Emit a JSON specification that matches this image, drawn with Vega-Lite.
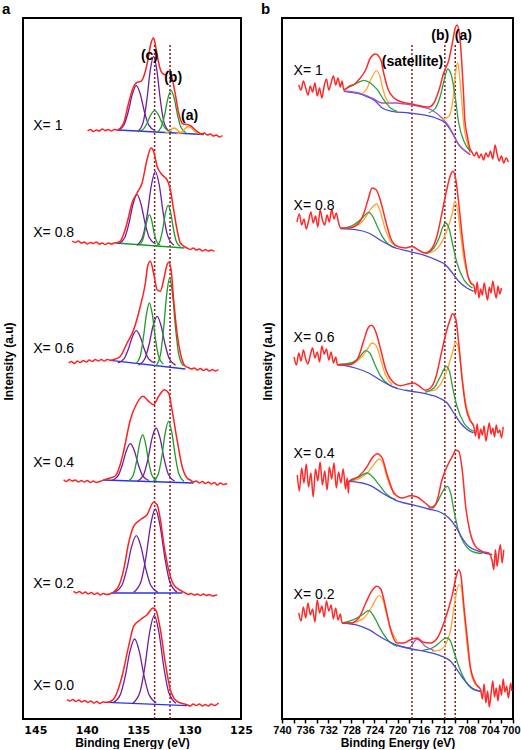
{
"$schema":"https://vega.github.io/schema/vega-lite/v6.json",
"padding":{"left":1,"top":1,"right":0,"bottom":0},
"background":"white",
"config":{"font":"Liberation Sans","view":{"stroke":"black","strokeWidth":2},
"axis":{"grid":false,"domain":false,"labelColor":"black","titleColor":"black"},
"title":{"anchor":"start","frame":"bounds","fontSize":15,"fontWeight":"bold","offset":1,"color":"black"},
"concat":{"spacing":6}},
"resolve":{"scale":{"color":"independent","x":"independent","y":"independent"}},
"datasets":{
"aRules":[{"x":133.4,"y0":0,"y1":676},{"x":131.9,"y0":0,"y1":676}],
"bRules":[{"x":717.5,"y0":0,"y1":676},{"x":711.8,"y0":0,"y1":676},{"x":710.0,"y0":0,"y1":676}],
"aText":[{"x":145.2,"y":593,"t":"X= 1"},{"x":145.2,"y":486,"t":"X= 0.8"},{"x":145.2,"y":370,"t":"X= 0.6"},{"x":145.2,"y":256,"t":"X= 0.4"},{"x":145.2,"y":135,"t":"X= 0.2"},{"x":145.2,"y":33,"t":"X= 0.0"}],
"aAnn":[{"x":133.9,"y":663,"t":"(c)"},{"x":131.6,"y":641,"t":"(b)"},{"x":130.0,"y":603,"t":"(a)"}],
"bText":[{"x":738.0,"y":648,"t":"X= 1"},{"x":738.0,"y":513,"t":"X= 0.8"},{"x":738.0,"y":381,"t":"X= 0.6"},{"x":738.0,"y":265,"t":"X= 0.4"},{"x":738.0,"y":124,"t":"X= 0.2"}],
"bAnn":[{"x":717.4,"y":657,"t":"(satellite)"},{"x":712.6,"y":683,"t":"(b)"},{"x":708.6,"y":683,"t":"(a)"}],
"A":[
{"s":"10r","c":"r","x":139.92,"y":588},{"s":"10r","c":"r","x":139.65,"y":589.5},{"s":"10r","c":"r","x":139.36,"y":587.5},{"s":"10r","c":"r","x":139.07,"y":589},{"s":"10r","c":"r","x":138.78,"y":588},{"s":"10r","c":"r","x":138.49,"y":590},{"s":"10r","c":"r","x":138.2,"y":588.5},{"s":"10r","c":"r","x":137.9,"y":589.5},{"s":"10r","c":"r","x":137.61,"y":588},{"s":"10r","c":"r","x":137.32,"y":589.5},{"s":"10r","c":"r","x":137.03,"y":589},{"s":"10r","c":"r","x":136.73,"y":591},{"s":"10r","c":"r","x":136.41,"y":596},{"s":"10r","c":"r","x":135.93,"y":616},{"s":"10r","c":"r","x":135.5,"y":631},{"s":"10r","c":"r","x":135.11,"y":636.7},{"s":"10r","c":"r","x":134.72,"y":637.7},{"s":"10r","c":"r","x":134.4,"y":644.3},{"s":"10r","c":"r","x":134.08,"y":657.7},{"s":"10r","c":"r","x":133.75,"y":676},{"s":"10r","c":"r","x":133.5,"y":681},{"s":"10r","c":"r","x":133.3,"y":672.7},{"s":"10r","c":"r","x":133.04,"y":657.7},{"s":"10r","c":"r","x":132.68,"y":646},{"s":"10r","c":"r","x":132.36,"y":644.3},{"s":"10r","c":"r","x":132.04,"y":647.7},{"s":"10r","c":"r","x":131.71,"y":641},{"s":"10r","c":"r","x":131.38,"y":624.3},{"s":"10r","c":"r","x":131.06,"y":606},{"s":"10r","c":"r","x":130.64,"y":595},{"s":"10r","c":"r","x":130.25,"y":594.5},{"s":"10r","c":"r","x":129.93,"y":593.5},{"s":"10r","c":"r","x":129.44,"y":589},{"s":"10r","c":"r","x":128.79,"y":585},{"s":"10r","c":"r","x":128.56,"y":586},{"s":"10r","c":"r","x":128.27,"y":584},{"s":"10r","c":"r","x":127.98,"y":585},{"s":"10r","c":"r","x":127.69,"y":583},{"s":"10r","c":"r","x":127.4,"y":584},{"s":"10r","c":"r","x":127.11,"y":582},{"s":"10r","c":"r","x":126.81,"y":583.5},
{"s":"10b","c":"b","x":137.0,"y":589},{"s":"10b","c":"b","x":128.6,"y":584.5},
{"s":"10p1","c":"p","x":133.38,"y":588.5},{"s":"10p1","c":"p","x":133.98,"y":594.1},{"s":"10p1","c":"p","x":134.4,"y":607.5},{"s":"10p1","c":"p","x":134.79,"y":624.7},{"s":"10p1","c":"p","x":135.18,"y":633.3},{"s":"10p1","c":"p","x":135.57,"y":624.7},{"s":"10p1","c":"p","x":135.96,"y":607.5},{"s":"10p1","c":"p","x":136.38,"y":594.1},{"s":"10p1","c":"p","x":136.98,"y":588.5},
{"s":"10p2","c":"p","x":132.0,"y":587.8},{"s":"10p2","c":"p","x":132.5,"y":597.2},{"s":"10p2","c":"p","x":132.85,"y":619.6},{"s":"10p2","c":"p","x":133.18,"y":648.3},{"s":"10p2","c":"p","x":133.5,"y":662.7},{"s":"10p2","c":"p","x":133.83,"y":648.3},{"s":"10p2","c":"p","x":134.15,"y":619.6},{"s":"10p2","c":"p","x":134.5,"y":597.2},{"s":"10p2","c":"p","x":135.0,"y":587.8},
{"s":"10g1","c":"g","x":131.75,"y":587.2},{"s":"10g1","c":"g","x":132.3,"y":589.9},{"s":"10g1","c":"g","x":132.69,"y":596.2},{"s":"10g1","c":"g","x":133.04,"y":604.3},{"s":"10g1","c":"g","x":133.4,"y":608.3},{"s":"10g1","c":"g","x":133.76,"y":604.3},{"s":"10g1","c":"g","x":134.12,"y":596.2},{"s":"10g1","c":"g","x":134.5,"y":589.9},{"s":"10g1","c":"g","x":135.05,"y":587.2},
{"s":"10g2","c":"g","x":130.36,"y":586.5},{"s":"10g2","c":"g","x":130.84,"y":591.8},{"s":"10g2","c":"g","x":131.18,"y":604.4},{"s":"10g2","c":"g","x":131.49,"y":620.6},{"s":"10g2","c":"g","x":131.8,"y":628.7},{"s":"10g2","c":"g","x":132.11,"y":620.6},{"s":"10g2","c":"g","x":132.42,"y":604.4},{"s":"10g2","c":"g","x":132.76,"y":591.8},{"s":"10g2","c":"g","x":133.24,"y":586.5},
{"s":"10o1","c":"o","x":130.6,"y":586.1},{"s":"10o1","c":"o","x":130.9,"y":586.7},{"s":"10o1","c":"o","x":131.11,"y":588.2},{"s":"10o1","c":"o","x":131.31,"y":590.1},{"s":"10o1","c":"o","x":131.5,"y":591},{"s":"10o1","c":"o","x":131.7,"y":590.1},{"s":"10o1","c":"o","x":131.89,"y":588.2},{"s":"10o1","c":"o","x":132.1,"y":586.7},{"s":"10o1","c":"o","x":132.4,"y":586.1},
{"s":"10o2","c":"o","x":128.9,"y":585.1},{"s":"10o2","c":"o","x":129.3,"y":586.1},{"s":"10o2","c":"o","x":129.58,"y":588.4},{"s":"10o2","c":"o","x":129.84,"y":591.1},{"s":"10o2","c":"o","x":130.1,"y":592.5},{"s":"10o2","c":"o","x":130.36,"y":591.1},{"s":"10o2","c":"o","x":130.62,"y":588.4},{"s":"10o2","c":"o","x":130.9,"y":586.1},{"s":"10o2","c":"o","x":131.3,"y":585.1},
{"s":"08r","c":"r","x":141.43,"y":478},{"s":"08r","c":"r","x":141.11,"y":476.5},{"s":"08r","c":"r","x":140.82,"y":478},{"s":"08r","c":"r","x":140.53,"y":476},{"s":"08r","c":"r","x":140.24,"y":477},{"s":"08r","c":"r","x":139.95,"y":475},{"s":"08r","c":"r","x":139.65,"y":476.5},{"s":"08r","c":"r","x":139.36,"y":475.5},{"s":"08r","c":"r","x":139.07,"y":477},{"s":"08r","c":"r","x":138.78,"y":475},{"s":"08r","c":"r","x":138.49,"y":476},{"s":"08r","c":"r","x":138.2,"y":474.5},{"s":"08r","c":"r","x":137.9,"y":476},{"s":"08r","c":"r","x":137.61,"y":475},{"s":"08r","c":"r","x":137.32,"y":476},{"s":"08r","c":"r","x":137.03,"y":476.5},{"s":"08r","c":"r","x":136.73,"y":478},{"s":"08r","c":"r","x":136.44,"y":484},{"s":"08r","c":"r","x":136.08,"y":496},{"s":"08r","c":"r","x":135.6,"y":516},{"s":"08r","c":"r","x":135.11,"y":526},{"s":"08r","c":"r","x":134.62,"y":536},{"s":"08r","c":"r","x":134.14,"y":559.3},{"s":"08r","c":"r","x":133.75,"y":571},{"s":"08r","c":"r","x":133.5,"y":567.7},{"s":"08r","c":"r","x":133.16,"y":552.7},{"s":"08r","c":"r","x":132.68,"y":544.3},{"s":"08r","c":"r","x":132.19,"y":539.3},{"s":"08r","c":"r","x":131.87,"y":529.3},{"s":"08r","c":"r","x":131.55,"y":509.3},{"s":"08r","c":"r","x":131.22,"y":489.3},{"s":"08r","c":"r","x":130.9,"y":476},{"s":"08r","c":"r","x":130.25,"y":471},{"s":"08r","c":"r","x":129.93,"y":469.5},{"s":"08r","c":"r","x":129.64,"y":471},{"s":"08r","c":"r","x":129.35,"y":469},{"s":"08r","c":"r","x":129.05,"y":470},{"s":"08r","c":"r","x":128.76,"y":468},{"s":"08r","c":"r","x":128.47,"y":469.5},{"s":"08r","c":"r","x":128.18,"y":468},{"s":"08r","c":"r","x":127.89,"y":469},{"s":"08r","c":"r","x":127.59,"y":467.5},
{"s":"08b","c":"g","x":137.2,"y":476},{"s":"08b","c":"g","x":130.5,"y":471},
{"s":"08p1","c":"p","x":133.31,"y":475},{"s":"08p1","c":"p","x":133.91,"y":481.2},{"s":"08p1","c":"p","x":134.33,"y":495.9},{"s":"08p1","c":"p","x":134.72,"y":514.8},{"s":"08p1","c":"p","x":135.11,"y":524.3},{"s":"08p1","c":"p","x":135.5,"y":514.8},{"s":"08p1","c":"p","x":135.89,"y":495.9},{"s":"08p1","c":"p","x":136.31,"y":481.2},{"s":"08p1","c":"p","x":136.91,"y":475},
{"s":"08p2","c":"p","x":131.53,"y":473.8},{"s":"08p2","c":"p","x":132.13,"y":483.1},{"s":"08p2","c":"p","x":132.55,"y":505.1},{"s":"08p2","c":"p","x":132.94,"y":533.5},{"s":"08p2","c":"p","x":133.33,"y":547.7},{"s":"08p2","c":"p","x":133.72,"y":533.5},{"s":"08p2","c":"p","x":134.11,"y":505.1},{"s":"08p2","c":"p","x":134.53,"y":483.1},{"s":"08p2","c":"p","x":135.13,"y":473.8},
{"s":"08g1","c":"g","x":132.86,"y":473.8},{"s":"08g1","c":"g","x":133.21,"y":477.7},{"s":"08g1","c":"g","x":133.46,"y":486.7},{"s":"08g1","c":"g","x":133.68,"y":498.4},{"s":"08g1","c":"g","x":133.91,"y":504.3},{"s":"08g1","c":"g","x":134.14,"y":498.4},{"s":"08g1","c":"g","x":134.37,"y":486.7},{"s":"08g1","c":"g","x":134.61,"y":477.7},{"s":"08g1","c":"g","x":134.96,"y":473.8},
{"s":"08g2","c":"g","x":130.89,"y":472.5},{"s":"08g2","c":"g","x":131.29,"y":477.6},{"s":"08g2","c":"g","x":131.57,"y":489.9},{"s":"08g2","c":"g","x":131.83,"y":505.8},{"s":"08g2","c":"g","x":132.09,"y":513.7},{"s":"08g2","c":"g","x":132.35,"y":505.8},{"s":"08g2","c":"g","x":132.61,"y":489.9},{"s":"08g2","c":"g","x":132.89,"y":477.6},{"s":"08g2","c":"g","x":133.29,"y":472.5},
{"s":"06r","c":"r","x":141.76,"y":356},{"s":"06r","c":"r","x":141.5,"y":357.5},{"s":"06r","c":"r","x":141.21,"y":355.5},{"s":"06r","c":"r","x":140.92,"y":358},{"s":"06r","c":"r","x":140.63,"y":356.5},{"s":"06r","c":"r","x":140.33,"y":358.5},{"s":"06r","c":"r","x":140.04,"y":357},{"s":"06r","c":"r","x":139.75,"y":359},{"s":"06r","c":"r","x":139.46,"y":357.5},{"s":"06r","c":"r","x":139.17,"y":359.5},{"s":"06r","c":"r","x":138.88,"y":358},{"s":"06r","c":"r","x":138.58,"y":359.5},{"s":"06r","c":"r","x":138.29,"y":358},{"s":"06r","c":"r","x":138.0,"y":359.5},{"s":"06r","c":"r","x":137.71,"y":358.7},{"s":"06r","c":"r","x":137.22,"y":360},{"s":"06r","c":"r","x":136.73,"y":362.7},{"s":"06r","c":"r","x":136.08,"y":376},{"s":"06r","c":"r","x":135.44,"y":389.3},{"s":"06r","c":"r","x":134.79,"y":412.7},{"s":"06r","c":"r","x":134.3,"y":436},{"s":"06r","c":"r","x":134.08,"y":452.7},{"s":"06r","c":"r","x":133.82,"y":457.7},{"s":"06r","c":"r","x":133.5,"y":446},{"s":"06r","c":"r","x":133.16,"y":429.3},{"s":"06r","c":"r","x":132.84,"y":427.7},{"s":"06r","c":"r","x":132.52,"y":439.3},{"s":"06r","c":"r","x":132.19,"y":454.3},{"s":"06r","c":"r","x":132.04,"y":456.7},{"s":"06r","c":"r","x":131.8,"y":449.3},{"s":"06r","c":"r","x":131.55,"y":419.3},{"s":"06r","c":"r","x":131.22,"y":386},{"s":"06r","c":"r","x":130.9,"y":366},{"s":"06r","c":"r","x":130.41,"y":352.7},{"s":"06r","c":"r","x":130.12,"y":351.5},{"s":"06r","c":"r","x":129.83,"y":350},{"s":"06r","c":"r","x":129.54,"y":351},{"s":"06r","c":"r","x":129.24,"y":349},{"s":"06r","c":"r","x":128.95,"y":350.5},{"s":"06r","c":"r","x":128.66,"y":348.5},{"s":"06r","c":"r","x":128.37,"y":350},{"s":"06r","c":"r","x":128.08,"y":348},{"s":"06r","c":"r","x":127.78,"y":349.5},{"s":"06r","c":"r","x":127.49,"y":348},{"s":"06r","c":"r","x":127.2,"y":349.5},
{"s":"06b","c":"b","x":137.71,"y":358.7},{"s":"06b","c":"b","x":130.41,"y":350},
{"s":"06p1","c":"p","x":133.38,"y":356.1},{"s":"06p1","c":"p","x":133.98,"y":360.1},{"s":"06p1","c":"p","x":134.4,"y":369.7},{"s":"06p1","c":"p","x":134.79,"y":382.1},{"s":"06p1","c":"p","x":135.18,"y":388.3},{"s":"06p1","c":"p","x":135.57,"y":382.1},{"s":"06p1","c":"p","x":135.96,"y":369.7},{"s":"06p1","c":"p","x":136.38,"y":360.1},{"s":"06p1","c":"p","x":136.98,"y":356.1},
{"s":"06p2","c":"p","x":131.36,"y":353.8},{"s":"06p2","c":"p","x":131.96,"y":360},{"s":"06p2","c":"p","x":132.38,"y":374.5},{"s":"06p2","c":"p","x":132.77,"y":393.3},{"s":"06p2","c":"p","x":133.16,"y":402.7},{"s":"06p2","c":"p","x":133.55,"y":393.3},{"s":"06p2","c":"p","x":133.94,"y":374.5},{"s":"06p2","c":"p","x":134.36,"y":360},{"s":"06p2","c":"p","x":134.96,"y":353.8},
{"s":"06g1","c":"g","x":132.56,"y":354.9},{"s":"06g1","c":"g","x":133.01,"y":362.5},{"s":"06g1","c":"g","x":133.33,"y":380.8},{"s":"06g1","c":"g","x":133.62,"y":404.3},{"s":"06g1","c":"g","x":133.91,"y":416},{"s":"06g1","c":"g","x":134.2,"y":404.3},{"s":"06g1","c":"g","x":134.5,"y":380.8},{"s":"06g1","c":"g","x":134.81,"y":362.5},{"s":"06g1","c":"g","x":135.26,"y":354.9},
{"s":"06g2","c":"g","x":130.59,"y":352.8},{"s":"06g2","c":"g","x":131.04,"y":363.8},{"s":"06g2","c":"g","x":131.36,"y":390.2},{"s":"06g2","c":"g","x":131.65,"y":424.1},{"s":"06g2","c":"g","x":131.94,"y":441},{"s":"06g2","c":"g","x":132.23,"y":424.1},{"s":"06g2","c":"g","x":132.53,"y":390.2},{"s":"06g2","c":"g","x":132.84,"y":363.8},{"s":"06g2","c":"g","x":133.29,"y":352.8},
{"s":"04r","c":"r","x":142.25,"y":239.3},{"s":"04r","c":"r","x":141.99,"y":237.5},{"s":"04r","c":"r","x":141.7,"y":239.5},{"s":"04r","c":"r","x":141.4,"y":238},{"s":"04r","c":"r","x":141.11,"y":239},{"s":"04r","c":"r","x":140.82,"y":237},{"s":"04r","c":"r","x":140.53,"y":238.5},{"s":"04r","c":"r","x":140.24,"y":237},{"s":"04r","c":"r","x":139.95,"y":238.5},{"s":"04r","c":"r","x":139.65,"y":236.5},{"s":"04r","c":"r","x":139.36,"y":238},{"s":"04r","c":"r","x":139.07,"y":236.5},{"s":"04r","c":"r","x":138.68,"y":237.7},{"s":"04r","c":"r","x":138.2,"y":239.5},{"s":"04r","c":"r","x":137.71,"y":241},{"s":"04r","c":"r","x":137.22,"y":243},{"s":"04r","c":"r","x":136.73,"y":255},{"s":"04r","c":"r","x":136.41,"y":268},{"s":"04r","c":"r","x":135.76,"y":299.3},{"s":"04r","c":"r","x":135.11,"y":316},{"s":"04r","c":"r","x":134.53,"y":322.7},{"s":"04r","c":"r","x":133.98,"y":317.7},{"s":"04r","c":"r","x":133.5,"y":314.3},{"s":"04r","c":"r","x":133.01,"y":322.7},{"s":"04r","c":"r","x":132.45,"y":329.3},{"s":"04r","c":"r","x":132.04,"y":326},{"s":"04r","c":"r","x":131.71,"y":309.3},{"s":"04r","c":"r","x":131.22,"y":279.3},{"s":"04r","c":"r","x":130.73,"y":252.7},{"s":"04r","c":"r","x":130.25,"y":241},{"s":"04r","c":"r","x":129.93,"y":239},{"s":"04r","c":"r","x":129.64,"y":237},{"s":"04r","c":"r","x":129.35,"y":238},{"s":"04r","c":"r","x":129.05,"y":236},{"s":"04r","c":"r","x":128.76,"y":237.5},{"s":"04r","c":"r","x":128.47,"y":235.5},{"s":"04r","c":"r","x":128.18,"y":237},{"s":"04r","c":"r","x":127.89,"y":235},{"s":"04r","c":"r","x":127.59,"y":236.5},{"s":"04r","c":"r","x":127.3,"y":234},{"s":"04r","c":"r","x":127.01,"y":236},{"s":"04r","c":"r","x":126.71,"y":234.5},{"s":"04r","c":"r","x":126.35,"y":235.5},
{"s":"04b","c":"b","x":138.39,"y":239},{"s":"04b","c":"b","x":129.63,"y":236},
{"s":"04p1","c":"p","x":133.96,"y":238.5},{"s":"04p1","c":"p","x":134.56,"y":243.1},{"s":"04p1","c":"p","x":134.98,"y":254.1},{"s":"04p1","c":"p","x":135.37,"y":268.2},{"s":"04p1","c":"p","x":135.76,"y":275.3},{"s":"04p1","c":"p","x":136.15,"y":268.2},{"s":"04p1","c":"p","x":136.54,"y":254.1},{"s":"04p1","c":"p","x":136.96,"y":243.1},{"s":"04p1","c":"p","x":137.56,"y":238.5},
{"s":"04p2","c":"p","x":131.46,"y":237.8},{"s":"04p2","c":"p","x":132.06,"y":244.5},{"s":"04p2","c":"p","x":132.48,"y":260.3},{"s":"04p2","c":"p","x":132.87,"y":280.8},{"s":"04p2","c":"p","x":133.26,"y":291},{"s":"04p2","c":"p","x":133.65,"y":280.8},{"s":"04p2","c":"p","x":134.04,"y":260.3},{"s":"04p2","c":"p","x":134.46,"y":244.5},{"s":"04p2","c":"p","x":135.06,"y":237.8},
{"s":"04g1","c":"g","x":133.22,"y":238.2},{"s":"04g1","c":"g","x":133.67,"y":244},{"s":"04g1","c":"g","x":133.99,"y":257.7},{"s":"04g1","c":"g","x":134.28,"y":275.4},{"s":"04g1","c":"g","x":134.57,"y":284.3},{"s":"04g1","c":"g","x":134.86,"y":275.4},{"s":"04g1","c":"g","x":135.16,"y":257.7},{"s":"04g1","c":"g","x":135.47,"y":244},{"s":"04g1","c":"g","x":135.92,"y":238.2},
{"s":"04g2","c":"g","x":130.54,"y":237.5},{"s":"04g2","c":"g","x":131.04,"y":245},{"s":"04g2","c":"g","x":131.39,"y":263},{"s":"04g2","c":"g","x":131.72,"y":286.1},{"s":"04g2","c":"g","x":132.04,"y":297.7},{"s":"04g2","c":"g","x":132.37,"y":286.1},{"s":"04g2","c":"g","x":132.69,"y":263},{"s":"04g2","c":"g","x":133.04,"y":245},{"s":"04g2","c":"g","x":133.54,"y":237.5},
{"s":"02r","c":"r","x":141.28,"y":127.7},{"s":"02r","c":"r","x":141.02,"y":126},{"s":"02r","c":"r","x":140.72,"y":127.5},{"s":"02r","c":"r","x":140.43,"y":125.5},{"s":"02r","c":"r","x":140.14,"y":127},{"s":"02r","c":"r","x":139.85,"y":125},{"s":"02r","c":"r","x":139.56,"y":126.5},{"s":"02r","c":"r","x":139.26,"y":124.5},{"s":"02r","c":"r","x":138.97,"y":126},{"s":"02r","c":"r","x":138.68,"y":124},{"s":"02r","c":"r","x":138.39,"y":125.5},{"s":"02r","c":"r","x":138.1,"y":124.5},{"s":"02r","c":"r","x":137.71,"y":125.3},{"s":"02r","c":"r","x":137.32,"y":127.5},{"s":"02r","c":"r","x":136.9,"y":132.7},{"s":"02r","c":"r","x":136.41,"y":149.3},{"s":"02r","c":"r","x":135.93,"y":176},{"s":"02r","c":"r","x":135.44,"y":192.7},{"s":"02r","c":"r","x":134.79,"y":199.3},{"s":"02r","c":"r","x":134.14,"y":204.3},{"s":"02r","c":"r","x":133.5,"y":216.7},{"s":"02r","c":"r","x":133.16,"y":214.3},{"s":"02r","c":"r","x":132.84,"y":199.3},{"s":"02r","c":"r","x":132.52,"y":176},{"s":"02r","c":"r","x":132.04,"y":149.3},{"s":"02r","c":"r","x":131.55,"y":134.3},{"s":"02r","c":"r","x":130.73,"y":127.7},{"s":"02r","c":"r","x":130.41,"y":126},{"s":"02r","c":"r","x":130.12,"y":124.5},{"s":"02r","c":"r","x":129.83,"y":125.5},{"s":"02r","c":"r","x":129.54,"y":124},{"s":"02r","c":"r","x":129.24,"y":125},{"s":"02r","c":"r","x":128.95,"y":123.5},{"s":"02r","c":"r","x":128.66,"y":125},{"s":"02r","c":"r","x":128.37,"y":123.5},{"s":"02r","c":"r","x":128.08,"y":124.5},{"s":"02r","c":"r","x":127.78,"y":123},{"s":"02r","c":"r","x":127.33,"y":124.3},
{"s":"02b","c":"b","x":137.6,"y":126},{"s":"02b","c":"b","x":130.7,"y":126},
{"s":"02p1","c":"p","x":133.08,"y":126.6},{"s":"02p1","c":"p","x":133.78,"y":133.7},{"s":"02p1","c":"p","x":134.27,"y":150.6},{"s":"02p1","c":"p","x":134.73,"y":172.4},{"s":"02p1","c":"p","x":135.18,"y":183.3},{"s":"02p1","c":"p","x":135.64,"y":172.4},{"s":"02p1","c":"p","x":136.09,"y":150.6},{"s":"02p1","c":"p","x":136.58,"y":133.7},{"s":"02p1","c":"p","x":137.28,"y":126.6},
{"s":"02p2","c":"p","x":131.23,"y":126.9},{"s":"02p2","c":"p","x":131.93,"y":137.3},{"s":"02p2","c":"p","x":132.42,"y":162.1},{"s":"02p2","c":"p","x":132.88,"y":194},{"s":"02p2","c":"p","x":133.33,"y":210},{"s":"02p2","c":"p","x":133.79,"y":194},{"s":"02p2","c":"p","x":134.24,"y":162.1},{"s":"02p2","c":"p","x":134.73,"y":137.3},{"s":"02p2","c":"p","x":135.43,"y":126.9},
{"s":"00r","c":"r","x":141.92,"y":19.3},{"s":"00r","c":"r","x":141.65,"y":18},{"s":"00r","c":"r","x":141.36,"y":19.5},{"s":"00r","c":"r","x":141.07,"y":17.5},{"s":"00r","c":"r","x":140.78,"y":19},{"s":"00r","c":"r","x":140.49,"y":17},{"s":"00r","c":"r","x":140.19,"y":18.5},{"s":"00r","c":"r","x":139.9,"y":16.5},{"s":"00r","c":"r","x":139.61,"y":18},{"s":"00r","c":"r","x":139.31,"y":16},{"s":"00r","c":"r","x":139.02,"y":17.5},{"s":"00r","c":"r","x":138.73,"y":15.5},{"s":"00r","c":"r","x":138.44,"y":17},{"s":"00r","c":"r","x":138.03,"y":16.7},{"s":"00r","c":"r","x":137.61,"y":18},{"s":"00r","c":"r","x":137.22,"y":22.7},{"s":"00r","c":"r","x":136.57,"y":42.7},{"s":"00r","c":"r","x":135.93,"y":72.7},{"s":"00r","c":"r","x":135.44,"y":92.7},{"s":"00r","c":"r","x":134.79,"y":99.3},{"s":"00r","c":"r","x":134.14,"y":104.3},{"s":"00r","c":"r","x":133.55,"y":111},{"s":"00r","c":"r","x":133.23,"y":107.7},{"s":"00r","c":"r","x":132.84,"y":89.3},{"s":"00r","c":"r","x":132.36,"y":56},{"s":"00r","c":"r","x":131.87,"y":29.3},{"s":"00r","c":"r","x":131.22,"y":17.7},{"s":"00r","c":"r","x":130.25,"y":14.3},{"s":"00r","c":"r","x":129.93,"y":13},{"s":"00r","c":"r","x":129.64,"y":15},{"s":"00r","c":"r","x":129.35,"y":13.5},{"s":"00r","c":"r","x":129.05,"y":15},{"s":"00r","c":"r","x":128.76,"y":13},{"s":"00r","c":"r","x":128.47,"y":14.5},{"s":"00r","c":"r","x":128.18,"y":13},{"s":"00r","c":"r","x":127.89,"y":15},{"s":"00r","c":"r","x":127.59,"y":13.5},{"s":"00r","c":"r","x":127.17,"y":16},
{"s":"00b","c":"b","x":138.03,"y":16.7},{"s":"00b","c":"b","x":130.25,"y":13.3},
{"s":"00p1","c":"p","x":133.24,"y":16.2},{"s":"00p1","c":"p","x":133.94,"y":24.2},{"s":"00p1","c":"p","x":134.43,"y":43.2},{"s":"00p1","c":"p","x":134.89,"y":67.7},{"s":"00p1","c":"p","x":135.34,"y":80},{"s":"00p1","c":"p","x":135.8,"y":67.7},{"s":"00p1","c":"p","x":136.25,"y":43.2},{"s":"00p1","c":"p","x":136.74,"y":24.2},{"s":"00p1","c":"p","x":137.44,"y":16.2},
{"s":"00p2","c":"p","x":131.33,"y":15.7},{"s":"00p2","c":"p","x":132.03,"y":26.7},{"s":"00p2","c":"p","x":132.52,"y":52.8},{"s":"00p2","c":"p","x":132.98,"y":86.5},{"s":"00p2","c":"p","x":133.43,"y":103.3},{"s":"00p2","c":"p","x":133.89,"y":86.5},{"s":"00p2","c":"p","x":134.34,"y":52.8},{"s":"00p2","c":"p","x":134.83,"y":26.7},{"s":"00p2","c":"p","x":135.53,"y":15.7}
],
"B":[
{"s":"10r","c":"r","x":737.1,"y":634},{"s":"10r","c":"r","x":736.7,"y":629},{"s":"10r","c":"r","x":736.3,"y":638},{"s":"10r","c":"r","x":735.9,"y":631},{"s":"10r","c":"r","x":735.5,"y":624},{"s":"10r","c":"r","x":735.1,"y":633},{"s":"10r","c":"r","x":734.7,"y":627},{"s":"10r","c":"r","x":734.3,"y":636},{"s":"10r","c":"r","x":733.9,"y":623},{"s":"10r","c":"r","x":733.5,"y":631},{"s":"10r","c":"r","x":733.1,"y":621},{"s":"10r","c":"r","x":732.7,"y":633},{"s":"10r","c":"r","x":732.3,"y":640},{"s":"10r","c":"r","x":731.9,"y":629},{"s":"10r","c":"r","x":731.5,"y":636},{"s":"10r","c":"r","x":731.1,"y":643},{"s":"10r","c":"r","x":730.7,"y":634},{"s":"10r","c":"r","x":730.3,"y":641},{"s":"10r","c":"r","x":729.9,"y":632},{"s":"10r","c":"r","x":729.6,"y":638},{"s":"10r","c":"r","x":729.3,"y":629},{"s":"10r","c":"r","x":728.4,"y":632.7},{"s":"10r","c":"r","x":727.3,"y":635.5},{"s":"10r","c":"r","x":726.7,"y":639.3},{"s":"10r","c":"r","x":725.5,"y":649.3},{"s":"10r","c":"r","x":724.7,"y":661},{"s":"10r","c":"r","x":723.8,"y":665},{"s":"10r","c":"r","x":722.9,"y":659.3},{"s":"10r","c":"r","x":722.4,"y":646},{"s":"10r","c":"r","x":721.6,"y":629.3},{"s":"10r","c":"r","x":720.6,"y":621},{"s":"10r","c":"r","x":719.2,"y":617},{"s":"10r","c":"r","x":717.5,"y":615},{"s":"10r","c":"r","x":715.7,"y":612.7},{"s":"10r","c":"r","x":714.6,"y":612},{"s":"10r","c":"r","x":713.7,"y":616},{"s":"10r","c":"r","x":712.8,"y":629.3},{"s":"10r","c":"r","x":712.0,"y":646},{"s":"10r","c":"r","x":711.1,"y":659.3},{"s":"10r","c":"r","x":710.5,"y":676},{"s":"10r","c":"r","x":710.0,"y":691},{"s":"10r","c":"r","x":709.7,"y":694},{"s":"10r","c":"r","x":709.3,"y":686},{"s":"10r","c":"r","x":708.9,"y":659.3},{"s":"10r","c":"r","x":708.6,"y":629.3},{"s":"10r","c":"r","x":708.35,"y":599.3},{"s":"10r","c":"r","x":707.9,"y":582.7},{"s":"10r","c":"r","x":707.5,"y":571},{"s":"10r","c":"r","x":707.1,"y":566.7},{"s":"10r","c":"r","x":706.7,"y":563},{"s":"10r","c":"r","x":706.3,"y":567},{"s":"10r","c":"r","x":705.9,"y":561},{"s":"10r","c":"r","x":705.5,"y":565},{"s":"10r","c":"r","x":705.1,"y":559},{"s":"10r","c":"r","x":704.7,"y":566},{"s":"10r","c":"r","x":704.3,"y":562},{"s":"10r","c":"r","x":703.9,"y":568},{"s":"10r","c":"r","x":703.5,"y":560},{"s":"10r","c":"r","x":703.1,"y":574},{"s":"10r","c":"r","x":702.8,"y":566},{"s":"10r","c":"r","x":702.4,"y":558},{"s":"10r","c":"r","x":702.0,"y":563},{"s":"10r","c":"r","x":701.6,"y":556},{"s":"10r","c":"r","x":701.2,"y":561},{"s":"10r","c":"r","x":700.8,"y":557},
{"s":"10b","c":"b","x":729.3,"y":627.7},{"s":"10b","c":"b","x":726.1,"y":624.3},{"s":"10b","c":"b","x":723.8,"y":617.7},{"s":"10b","c":"b","x":722.65,"y":611},{"s":"10b","c":"b","x":720.9,"y":607.7},{"s":"10b","c":"b","x":718.0,"y":606},{"s":"10b","c":"b","x":715.7,"y":604.3},{"s":"10b","c":"b","x":713.4,"y":601},{"s":"10b","c":"b","x":711.7,"y":596},{"s":"10b","c":"b","x":710.5,"y":586},{"s":"10b","c":"b","x":709.4,"y":574.3},{"s":"10b","c":"b","x":708.2,"y":567.7},{"s":"10b","c":"b","x":707.4,"y":564.3},
{"s":"10p","c":"p","x":729.3,"y":628},{"s":"10p","c":"p","x":726.1,"y":625},{"s":"10p","c":"p","x":724.4,"y":621},{"s":"10p","c":"p","x":722.65,"y":616},{"s":"10p","c":"p","x":720.3,"y":616},{"s":"10p","c":"p","x":718.0,"y":614.3},{"s":"10p","c":"p","x":715.7,"y":612},{"s":"10p","c":"p","x":714.0,"y":608.7},{"s":"10p","c":"p","x":712.3,"y":601},{"s":"10p","c":"p","x":711.1,"y":592.7},{"s":"10p","c":"p","x":710.2,"y":582.7},{"s":"10p","c":"p","x":709.4,"y":574.3},{"s":"10p","c":"p","x":708.2,"y":567.7},{"s":"10p","c":"p","x":707.4,"y":564.3},
{"s":"10o1","c":"o","x":726.1,"y":625.3},{"s":"10o1","c":"o","x":725.25,"y":631},{"s":"10o1","c":"o","x":724.5,"y":641},{"s":"10o1","c":"o","x":723.6,"y":648.3},{"s":"10o1","c":"o","x":723.05,"y":642.7},{"s":"10o1","c":"o","x":722.5,"y":629.3},{"s":"10o1","c":"o","x":721.95,"y":620},{"s":"10o1","c":"o","x":721.2,"y":616},
{"s":"10o2","c":"o","x":712.3,"y":599.3},{"s":"10o2","c":"o","x":711.1,"y":602.7},{"s":"10o2","c":"o","x":710.4,"y":619.3},{"s":"10o2","c":"o","x":710.0,"y":642.7},{"s":"10o2","c":"o","x":709.6,"y":656.7},{"s":"10o2","c":"o","x":709.3,"y":646},{"s":"10o2","c":"o","x":708.9,"y":619.3},{"s":"10o2","c":"o","x":708.5,"y":592.7},{"s":"10o2","c":"o","x":707.9,"y":576},{"s":"10o2","c":"o","x":707.4,"y":566},
{"s":"10g1","c":"g","x":729.3,"y":629.3},{"s":"10g1","c":"g","x":727.5,"y":634.3},{"s":"10g1","c":"g","x":725.8,"y":638.7},{"s":"10g1","c":"g","x":724.7,"y":636},{"s":"10g1","c":"g","x":723.5,"y":629.3},{"s":"10g1","c":"g","x":722.4,"y":619.3},{"s":"10g1","c":"g","x":721.2,"y":611},{"s":"10g1","c":"g","x":720.05,"y":607.7},
{"s":"10g2","c":"g","x":714.6,"y":606},{"s":"10g2","c":"g","x":713.4,"y":611},{"s":"10g2","c":"g","x":712.6,"y":622.7},{"s":"10g2","c":"g","x":711.9,"y":639.3},{"s":"10g2","c":"g","x":711.3,"y":650},{"s":"10g2","c":"g","x":710.7,"y":644.3},{"s":"10g2","c":"g","x":710.1,"y":626},{"s":"10g2","c":"g","x":709.4,"y":596},{"s":"10g2","c":"g","x":708.5,"y":577.7},{"s":"10g2","c":"g","x":707.4,"y":567.7},
{"s":"08r","c":"r","x":737.4,"y":497},{"s":"08r","c":"r","x":737.0,"y":505},{"s":"08r","c":"r","x":736.6,"y":494},{"s":"08r","c":"r","x":736.2,"y":500},{"s":"08r","c":"r","x":735.8,"y":490},{"s":"08r","c":"r","x":735.4,"y":498},{"s":"08r","c":"r","x":735.0,"y":507},{"s":"08r","c":"r","x":734.6,"y":496},{"s":"08r","c":"r","x":734.2,"y":503},{"s":"08r","c":"r","x":733.8,"y":492},{"s":"08r","c":"r","x":733.4,"y":509},{"s":"08r","c":"r","x":733.0,"y":499},{"s":"08r","c":"r","x":732.6,"y":494},{"s":"08r","c":"r","x":732.2,"y":504},{"s":"08r","c":"r","x":731.8,"y":497},{"s":"08r","c":"r","x":731.4,"y":510},{"s":"08r","c":"r","x":731.0,"y":500},{"s":"08r","c":"r","x":730.6,"y":506},{"s":"08r","c":"r","x":730.2,"y":496},{"s":"08r","c":"r","x":729.85,"y":491},{"s":"08r","c":"r","x":728.4,"y":491},{"s":"08r","c":"r","x":727.0,"y":494.3},{"s":"08r","c":"r","x":725.8,"y":506},{"s":"08r","c":"r","x":725.1,"y":519.3},{"s":"08r","c":"r","x":724.4,"y":531},{"s":"08r","c":"r","x":723.7,"y":529.3},{"s":"08r","c":"r","x":723.0,"y":519.3},{"s":"08r","c":"r","x":722.1,"y":499.3},{"s":"08r","c":"r","x":721.2,"y":481},{"s":"08r","c":"r","x":720.05,"y":472.7},{"s":"08r","c":"r","x":718.6,"y":471},{"s":"08r","c":"r","x":717.5,"y":472.5},{"s":"08r","c":"r","x":716.3,"y":468.7},{"s":"08r","c":"r","x":715.2,"y":466},{"s":"08r","c":"r","x":714.0,"y":471},{"s":"08r","c":"r","x":713.1,"y":484.3},{"s":"08r","c":"r","x":712.3,"y":506},{"s":"08r","c":"r","x":711.6,"y":526},{"s":"08r","c":"r","x":710.8,"y":544.3},{"s":"08r","c":"r","x":710.4,"y":547.7},{"s":"08r","c":"r","x":709.9,"y":539.3},{"s":"08r","c":"r","x":709.4,"y":516},{"s":"08r","c":"r","x":708.8,"y":482.7},{"s":"08r","c":"r","x":708.2,"y":456},{"s":"08r","c":"r","x":707.7,"y":441},{"s":"08r","c":"r","x":707.0,"y":434.3},{"s":"08r","c":"r","x":706.8,"y":434},{"s":"08r","c":"r","x":706.5,"y":425},{"s":"08r","c":"r","x":706.2,"y":437},{"s":"08r","c":"r","x":705.9,"y":421},{"s":"08r","c":"r","x":705.6,"y":430},{"s":"08r","c":"r","x":705.3,"y":424},{"s":"08r","c":"r","x":705.0,"y":436},{"s":"08r","c":"r","x":704.7,"y":427},{"s":"08r","c":"r","x":704.4,"y":419},{"s":"08r","c":"r","x":704.1,"y":432},{"s":"08r","c":"r","x":703.8,"y":426},{"s":"08r","c":"r","x":703.5,"y":438},{"s":"08r","c":"r","x":703.2,"y":428},{"s":"08r","c":"r","x":702.9,"y":421},{"s":"08r","c":"r","x":702.6,"y":433},{"s":"08r","c":"r","x":702.3,"y":425},{"s":"08r","c":"r","x":702.0,"y":431},
{"s":"08o1","c":"o","x":729.85,"y":490.3},{"s":"08o1","c":"o","x":727.3,"y":492.7},{"s":"08o1","c":"o","x":725.8,"y":499.3},{"s":"08o1","c":"o","x":724.7,"y":509.3},{"s":"08o1","c":"o","x":723.6,"y":515},{"s":"08o1","c":"o","x":723.0,"y":507.7},{"s":"08o1","c":"o","x":722.1,"y":489.3},{"s":"08o1","c":"o","x":721.2,"y":477.7},{"s":"08o1","c":"o","x":720.3,"y":472.7},
{"s":"08o2","c":"o","x":715.2,"y":465.3},{"s":"08o2","c":"o","x":713.7,"y":467.7},{"s":"08o2","c":"o","x":712.6,"y":474.3},{"s":"08o2","c":"o","x":711.4,"y":489.3},{"s":"08o2","c":"o","x":710.5,"y":506},{"s":"08o2","c":"o","x":710.1,"y":517.7},{"s":"08o2","c":"o","x":709.7,"y":512.7},{"s":"08o2","c":"o","x":709.1,"y":486},{"s":"08o2","c":"o","x":708.5,"y":459.3},{"s":"08o2","c":"o","x":707.7,"y":441},{"s":"08o2","c":"o","x":707.0,"y":434.3},
{"s":"08g1","c":"g","x":729.85,"y":490.3},{"s":"08g1","c":"g","x":727.6,"y":494.3},{"s":"08g1","c":"g","x":726.1,"y":501},{"s":"08g1","c":"g","x":725.0,"y":506.7},{"s":"08g1","c":"g","x":724.3,"y":502.7},{"s":"08g1","c":"g","x":723.5,"y":492.7},{"s":"08g1","c":"g","x":722.65,"y":482.7},{"s":"08g1","c":"g","x":721.5,"y":474.3},{"s":"08g1","c":"g","x":720.3,"y":471},
{"s":"08g2","c":"g","x":715.2,"y":465.3},{"s":"08g2","c":"g","x":713.7,"y":471},{"s":"08g2","c":"g","x":712.8,"y":481},{"s":"08g2","c":"g","x":712.1,"y":492.7},{"s":"08g2","c":"g","x":711.7,"y":496},{"s":"08g2","c":"g","x":711.1,"y":491},{"s":"08g2","c":"g","x":710.5,"y":476},{"s":"08g2","c":"g","x":709.7,"y":456},{"s":"08g2","c":"g","x":708.5,"y":439.3},{"s":"08g2","c":"g","x":707.0,"y":431},
{"s":"08b","c":"b","x":729.85,"y":490.3},{"s":"08b","c":"b","x":727.3,"y":489.3},{"s":"08b","c":"b","x":725.0,"y":486},{"s":"08b","c":"b","x":722.65,"y":477.7},{"s":"08b","c":"b","x":720.3,"y":471},{"s":"08b","c":"b","x":718.0,"y":467.7},{"s":"08b","c":"b","x":715.7,"y":464.3},{"s":"08b","c":"b","x":713.4,"y":459.3},{"s":"08b","c":"b","x":711.7,"y":454.3},{"s":"08b","c":"b","x":710.5,"y":446},{"s":"08b","c":"b","x":709.4,"y":437.7},{"s":"08b","c":"b","x":708.0,"y":431},{"s":"08b","c":"b","x":706.8,"y":427.7},
{"s":"06r","c":"r","x":737.9,"y":362},{"s":"06r","c":"r","x":737.5,"y":354},{"s":"06r","c":"r","x":737.1,"y":366},{"s":"06r","c":"r","x":736.7,"y":358},{"s":"06r","c":"r","x":736.3,"y":369},{"s":"06r","c":"r","x":735.9,"y":360},{"s":"06r","c":"r","x":735.5,"y":355},{"s":"06r","c":"r","x":735.1,"y":364},{"s":"06r","c":"r","x":734.7,"y":371},{"s":"06r","c":"r","x":734.3,"y":361},{"s":"06r","c":"r","x":733.9,"y":367},{"s":"06r","c":"r","x":733.5,"y":357},{"s":"06r","c":"r","x":733.1,"y":373},{"s":"06r","c":"r","x":732.7,"y":365},{"s":"06r","c":"r","x":732.3,"y":370},{"s":"06r","c":"r","x":731.9,"y":359},{"s":"06r","c":"r","x":731.5,"y":367},{"s":"06r","c":"r","x":731.1,"y":356},{"s":"06r","c":"r","x":730.7,"y":362},{"s":"06r","c":"r","x":730.4,"y":354.3},{"s":"06r","c":"r","x":728.4,"y":354.3},{"s":"06r","c":"r","x":727.0,"y":359.3},{"s":"06r","c":"r","x":725.8,"y":379.3},{"s":"06r","c":"r","x":725.1,"y":391},{"s":"06r","c":"r","x":724.5,"y":393.7},{"s":"06r","c":"r","x":723.8,"y":387.7},{"s":"06r","c":"r","x":722.9,"y":369.3},{"s":"06r","c":"r","x":722.1,"y":351},{"s":"06r","c":"r","x":720.9,"y":337.7},{"s":"06r","c":"r","x":719.5,"y":333.3},{"s":"06r","c":"r","x":718.0,"y":335.3},{"s":"06r","c":"r","x":717.2,"y":336},{"s":"06r","c":"r","x":716.3,"y":333.3},{"s":"06r","c":"r","x":715.2,"y":328.7},{"s":"06r","c":"r","x":714.3,"y":331},{"s":"06r","c":"r","x":713.4,"y":341},{"s":"06r","c":"r","x":712.4,"y":366},{"s":"06r","c":"r","x":711.6,"y":386},{"s":"06r","c":"r","x":710.8,"y":401},{"s":"06r","c":"r","x":710.5,"y":405.3},{"s":"06r","c":"r","x":709.95,"y":401},{"s":"06r","c":"r","x":709.4,"y":376},{"s":"06r","c":"r","x":708.8,"y":339.3},{"s":"06r","c":"r","x":708.2,"y":312.7},{"s":"06r","c":"r","x":707.5,"y":299.3},{"s":"06r","c":"r","x":706.8,"y":292.7},{"s":"06r","c":"r","x":706.5,"y":283},{"s":"06r","c":"r","x":706.2,"y":295},{"s":"06r","c":"r","x":705.9,"y":280},{"s":"06r","c":"r","x":705.6,"y":290},{"s":"06r","c":"r","x":705.3,"y":284},{"s":"06r","c":"r","x":705.0,"y":293},{"s":"06r","c":"r","x":704.7,"y":278},{"s":"06r","c":"r","x":704.4,"y":287},{"s":"06r","c":"r","x":704.1,"y":296},{"s":"06r","c":"r","x":703.8,"y":285},{"s":"06r","c":"r","x":703.5,"y":291},{"s":"06r","c":"r","x":703.2,"y":282},{"s":"06r","c":"r","x":702.9,"y":294},{"s":"06r","c":"r","x":702.6,"y":286},{"s":"06r","c":"r","x":702.3,"y":289},{"s":"06r","c":"r","x":702.0,"y":281},{"s":"06r","c":"r","x":701.7,"y":292},
{"s":"06o1","c":"o","x":730.4,"y":354.3},{"s":"06o1","c":"o","x":727.8,"y":356},{"s":"06o1","c":"o","x":726.1,"y":362.7},{"s":"06o1","c":"o","x":725.1,"y":371},{"s":"06o1","c":"o","x":724.4,"y":376},{"s":"06o1","c":"o","x":723.7,"y":373.3},{"s":"06o1","c":"o","x":722.9,"y":359.3},{"s":"06o1","c":"o","x":722.1,"y":344.3},{"s":"06o1","c":"o","x":720.9,"y":334.3},
{"s":"06o2","c":"o","x":715.2,"y":327.7},{"s":"06o2","c":"o","x":713.7,"y":328.7},{"s":"06o2","c":"o","x":712.6,"y":334.3},{"s":"06o2","c":"o","x":711.4,"y":349.3},{"s":"06o2","c":"o","x":710.5,"y":366},{"s":"06o2","c":"o","x":709.95,"y":376.7},{"s":"06o2","c":"o","x":709.5,"y":372.7},{"s":"06o2","c":"o","x":708.9,"y":346},{"s":"06o2","c":"o","x":708.3,"y":319.3},{"s":"06o2","c":"o","x":707.5,"y":301},{"s":"06o2","c":"o","x":706.8,"y":292.7},
{"s":"06g1","c":"g","x":730.4,"y":354.3},{"s":"06g1","c":"g","x":728.1,"y":356},{"s":"06g1","c":"g","x":726.7,"y":361},{"s":"06g1","c":"g","x":725.5,"y":368.3},{"s":"06g1","c":"g","x":724.8,"y":366},{"s":"06g1","c":"g","x":723.9,"y":354.3},{"s":"06g1","c":"g","x":722.9,"y":342.7},{"s":"06g1","c":"g","x":721.5,"y":334.3},{"s":"06g1","c":"g","x":720.05,"y":331},
{"s":"06g2","c":"g","x":715.2,"y":326.7},{"s":"06g2","c":"g","x":713.7,"y":331},{"s":"06g2","c":"g","x":712.7,"y":341},{"s":"06g2","c":"g","x":712.0,"y":349.3},{"s":"06g2","c":"g","x":711.6,"y":352.7},{"s":"06g2","c":"g","x":711.0,"y":347.7},{"s":"06g2","c":"g","x":710.5,"y":332.7},{"s":"06g2","c":"g","x":709.7,"y":312.7},{"s":"06g2","c":"g","x":708.5,"y":296},{"s":"06g2","c":"g","x":706.8,"y":287.7},
{"s":"06b","c":"b","x":730.4,"y":354.3},{"s":"06b","c":"b","x":727.3,"y":351},{"s":"06b","c":"b","x":725.0,"y":346},{"s":"06b","c":"b","x":722.65,"y":337.7},{"s":"06b","c":"b","x":720.3,"y":331},{"s":"06b","c":"b","x":717.5,"y":327.7},{"s":"06b","c":"b","x":715.2,"y":325.3},{"s":"06b","c":"b","x":712.8,"y":321},{"s":"06b","c":"b","x":711.4,"y":316},{"s":"06b","c":"b","x":710.25,"y":306},{"s":"06b","c":"b","x":709.1,"y":296},{"s":"06b","c":"b","x":707.9,"y":289.3},{"s":"06b","c":"b","x":706.8,"y":286},
{"s":"04r","c":"r","x":737.35,"y":244},{"s":"04r","c":"r","x":737.0,"y":228},{"s":"04r","c":"r","x":736.6,"y":251},{"s":"04r","c":"r","x":736.2,"y":236},{"s":"04r","c":"r","x":735.8,"y":255},{"s":"04r","c":"r","x":735.4,"y":232},{"s":"04r","c":"r","x":735.0,"y":246},{"s":"04r","c":"r","x":734.6,"y":222},{"s":"04r","c":"r","x":734.2,"y":250},{"s":"04r","c":"r","x":733.8,"y":238},{"s":"04r","c":"r","x":733.4,"y":257},{"s":"04r","c":"r","x":733.0,"y":234},{"s":"04r","c":"r","x":732.6,"y":248},{"s":"04r","c":"r","x":732.2,"y":229},{"s":"04r","c":"r","x":731.8,"y":252},{"s":"04r","c":"r","x":731.4,"y":240},{"s":"04r","c":"r","x":731.0,"y":256},{"s":"04r","c":"r","x":730.6,"y":231},{"s":"04r","c":"r","x":730.2,"y":247},{"s":"04r","c":"r","x":729.8,"y":236},{"s":"04r","c":"r","x":729.4,"y":250},{"s":"04r","c":"r","x":729.0,"y":230},{"s":"04r","c":"r","x":728.7,"y":241},{"s":"04r","c":"r","x":728.5,"y":226},{"s":"04r","c":"r","x":728.4,"y":237.7},{"s":"04r","c":"r","x":726.7,"y":242.7},{"s":"04r","c":"r","x":725.25,"y":252.7},{"s":"04r","c":"r","x":724.4,"y":261},{"s":"04r","c":"r","x":723.5,"y":265.3},{"s":"04r","c":"r","x":722.65,"y":261},{"s":"04r","c":"r","x":721.8,"y":244.3},{"s":"04r","c":"r","x":720.6,"y":226},{"s":"04r","c":"r","x":719.2,"y":221},{"s":"04r","c":"r","x":717.75,"y":223.3},{"s":"04r","c":"r","x":716.6,"y":222},{"s":"04r","c":"r","x":715.2,"y":216},{"s":"04r","c":"r","x":714.0,"y":211},{"s":"04r","c":"r","x":713.1,"y":219.3},{"s":"04r","c":"r","x":712.3,"y":239.3},{"s":"04r","c":"r","x":711.4,"y":252.7},{"s":"04r","c":"r","x":710.5,"y":262.7},{"s":"04r","c":"r","x":709.9,"y":268.7},{"s":"04r","c":"r","x":709.4,"y":267.7},{"s":"04r","c":"r","x":708.8,"y":249.3},{"s":"04r","c":"r","x":708.2,"y":212.7},{"s":"04r","c":"r","x":707.4,"y":186},{"s":"04r","c":"r","x":706.5,"y":172.7},{"s":"04r","c":"r","x":705.35,"y":167.7},{"s":"04r","c":"r","x":704.2,"y":166},{"s":"04r","c":"r","x":703.6,"y":158},{"s":"04r","c":"r","x":703.33,"y":149.3},{"s":"04r","c":"r","x":703.04,"y":169.3},{"s":"04r","c":"r","x":702.75,"y":152.7},{"s":"04r","c":"r","x":702.46,"y":166},{"s":"04r","c":"r","x":702.17,"y":174.3},{"s":"04r","c":"r","x":701.89,"y":156},{"s":"04r","c":"r","x":701.6,"y":169.3},
{"s":"04o1","c":"o","x":728.4,"y":237.7},{"s":"04o1","c":"o","x":726.7,"y":240},{"s":"04o1","c":"o","x":725.25,"y":246},{"s":"04o1","c":"o","x":724.1,"y":254.3},{"s":"04o1","c":"o","x":723.2,"y":260},{"s":"04o1","c":"o","x":722.65,"y":257.7},{"s":"04o1","c":"o","x":721.8,"y":241},{"s":"04o1","c":"o","x":720.6,"y":224.3},
{"s":"04g1","c":"g","x":728.4,"y":237.7},{"s":"04g1","c":"g","x":727.0,"y":241},{"s":"04g1","c":"g","x":725.25,"y":246},{"s":"04g1","c":"g","x":724.4,"y":242.7},{"s":"04g1","c":"g","x":723.2,"y":234.3},{"s":"04g1","c":"g","x":721.8,"y":224.3},{"s":"04g1","c":"g","x":720.3,"y":219.3},
{"s":"04g2","c":"g","x":714.6,"y":211},{"s":"04g2","c":"g","x":713.4,"y":214.3},{"s":"04g2","c":"g","x":712.6,"y":222.7},{"s":"04g2","c":"g","x":711.8,"y":231},{"s":"04g2","c":"g","x":711.4,"y":232.7},{"s":"04g2","c":"g","x":710.8,"y":226},{"s":"04g2","c":"g","x":710.25,"y":209.3},{"s":"04g2","c":"g","x":709.5,"y":189.3},{"s":"04g2","c":"g","x":708.5,"y":176},{"s":"04g2","c":"g","x":707.1,"y":167.7},{"s":"04g2","c":"g","x":705.35,"y":165.3},
{"s":"04b","c":"b","x":728.4,"y":237.7},{"s":"04b","c":"b","x":726.1,"y":236},{"s":"04b","c":"b","x":724.4,"y":232.7},{"s":"04b","c":"b","x":722.65,"y":226},{"s":"04b","c":"b","x":720.3,"y":218.7},{"s":"04b","c":"b","x":717.5,"y":214.3},{"s":"04b","c":"b","x":714.6,"y":210},{"s":"04b","c":"b","x":712.3,"y":206},{"s":"04b","c":"b","x":711.1,"y":201},{"s":"04b","c":"b","x":709.95,"y":192.7},{"s":"04b","c":"b","x":708.8,"y":181},{"s":"04b","c":"b","x":707.7,"y":172.7},{"s":"04b","c":"b","x":705.9,"y":167.7},{"s":"04b","c":"b","x":703.6,"y":164.3},
{"s":"02r","c":"r","x":737.1,"y":106},{"s":"02r","c":"r","x":736.7,"y":98},{"s":"02r","c":"r","x":736.3,"y":112},{"s":"02r","c":"r","x":735.9,"y":101},{"s":"02r","c":"r","x":735.5,"y":116},{"s":"02r","c":"r","x":735.1,"y":104},{"s":"02r","c":"r","x":734.7,"y":110},{"s":"02r","c":"r","x":734.3,"y":97},{"s":"02r","c":"r","x":733.9,"y":119},{"s":"02r","c":"r","x":733.5,"y":106},{"s":"02r","c":"r","x":733.1,"y":113},{"s":"02r","c":"r","x":732.7,"y":102},{"s":"02r","c":"r","x":732.3,"y":118},{"s":"02r","c":"r","x":731.9,"y":108},{"s":"02r","c":"r","x":731.5,"y":114},{"s":"02r","c":"r","x":731.1,"y":100},{"s":"02r","c":"r","x":730.7,"y":111},{"s":"02r","c":"r","x":730.3,"y":99},{"s":"02r","c":"r","x":729.9,"y":105},{"s":"02r","c":"r","x":729.6,"y":96},{"s":"02r","c":"r","x":728.1,"y":96},{"s":"02r","c":"r","x":726.7,"y":101},{"s":"02r","c":"r","x":725.5,"y":116},{"s":"02r","c":"r","x":724.5,"y":127.7},{"s":"02r","c":"r","x":723.6,"y":132.7},{"s":"02r","c":"r","x":722.9,"y":130},{"s":"02r","c":"r","x":722.1,"y":112.7},{"s":"02r","c":"r","x":721.2,"y":89.3},{"s":"02r","c":"r","x":720.05,"y":76},{"s":"02r","c":"r","x":718.9,"y":76},{"s":"02r","c":"r","x":717.75,"y":79.3},{"s":"02r","c":"r","x":716.6,"y":81},{"s":"02r","c":"r","x":715.5,"y":76.7},{"s":"02r","c":"r","x":714.3,"y":76},{"s":"02r","c":"r","x":713.1,"y":81},{"s":"02r","c":"r","x":712.3,"y":91},{"s":"02r","c":"r","x":711.4,"y":106},{"s":"02r","c":"r","x":710.5,"y":124.3},{"s":"02r","c":"r","x":709.9,"y":141},{"s":"02r","c":"r","x":709.4,"y":149.3},{"s":"02r","c":"r","x":709.0,"y":142.7},{"s":"02r","c":"r","x":708.5,"y":112.7},{"s":"02r","c":"r","x":707.9,"y":79.3},{"s":"02r","c":"r","x":707.4,"y":52.7},{"s":"02r","c":"r","x":706.5,"y":36},{"s":"02r","c":"r","x":705.6,"y":29.3},{"s":"02r","c":"r","x":705.3,"y":20},{"s":"02r","c":"r","x":705.0,"y":35},{"s":"02r","c":"r","x":704.7,"y":16},{"s":"02r","c":"r","x":704.4,"y":28},{"s":"02r","c":"r","x":704.1,"y":12},{"s":"02r","c":"r","x":703.8,"y":25},{"s":"02r","c":"r","x":703.5,"y":38},{"s":"02r","c":"r","x":703.2,"y":22},{"s":"02r","c":"r","x":702.9,"y":31},{"s":"02r","c":"r","x":702.6,"y":18},{"s":"02r","c":"r","x":702.3,"y":34},{"s":"02r","c":"r","x":702.0,"y":24},{"s":"02r","c":"r","x":701.7,"y":40},{"s":"02r","c":"r","x":701.4,"y":27},{"s":"02r","c":"r","x":701.1,"y":33},{"s":"02r","c":"r","x":700.8,"y":21},{"s":"02r","c":"r","x":700.4,"y":36},{"s":"02r","c":"r","x":700.2,"y":28},
{"s":"02o1","c":"o","x":729.6,"y":96},{"s":"02o1","c":"o","x":727.6,"y":96.7},{"s":"02o1","c":"o","x":725.8,"y":101},{"s":"02o1","c":"o","x":724.4,"y":112.7},{"s":"02o1","c":"o","x":723.2,"y":123.3},{"s":"02o1","c":"o","x":722.65,"y":121},{"s":"02o1","c":"o","x":721.95,"y":106},{"s":"02o1","c":"o","x":721.0,"y":87.7},{"s":"02o1","c":"o","x":720.05,"y":77.7},
{"s":"02o2","c":"o","x":714.0,"y":67.7},{"s":"02o2","c":"o","x":712.8,"y":68.7},{"s":"02o2","c":"o","x":711.7,"y":74.3},{"s":"02o2","c":"o","x":710.8,"y":89.3},{"s":"02o2","c":"o","x":710.1,"y":116},{"s":"02o2","c":"o","x":709.4,"y":134.3},{"s":"02o2","c":"o","x":709.0,"y":132.7},{"s":"02o2","c":"o","x":708.5,"y":106},{"s":"02o2","c":"o","x":707.9,"y":72},{"s":"02o2","c":"o","x":707.1,"y":42},{"s":"02o2","c":"o","x":705.9,"y":31},
{"s":"02g1","c":"g","x":729.6,"y":96},{"s":"02g1","c":"g","x":727.6,"y":99.3},{"s":"02g1","c":"g","x":726.1,"y":104.3},{"s":"02g1","c":"g","x":724.95,"y":108.3},{"s":"02g1","c":"g","x":724.1,"y":102.7},{"s":"02g1","c":"g","x":722.9,"y":89.3},{"s":"02g1","c":"g","x":721.5,"y":77.7},{"s":"02g1","c":"g","x":720.05,"y":72.7},
{"s":"02g2","c":"g","x":715.7,"y":68.7},{"s":"02g2","c":"g","x":714.0,"y":71},{"s":"02g2","c":"g","x":712.8,"y":76},{"s":"02g2","c":"g","x":712.0,"y":80},{"s":"02g2","c":"g","x":711.4,"y":81},{"s":"02g2","c":"g","x":710.8,"y":77.7},{"s":"02g2","c":"g","x":710.25,"y":67.7},{"s":"02g2","c":"g","x":709.4,"y":52.7},{"s":"02g2","c":"g","x":708.2,"y":37.7},{"s":"02g2","c":"g","x":706.8,"y":29.3},{"s":"02g2","c":"g","x":705.6,"y":27.7},
{"s":"02p","c":"p","x":720.05,"y":73.3},{"s":"02p","c":"p","x":718.0,"y":71},{"s":"02p","c":"p","x":716.6,"y":80},{"s":"02p","c":"p","x":715.2,"y":72.7},{"s":"02p","c":"p","x":713.7,"y":68.7},
{"s":"02b","c":"b","x":729.6,"y":96},{"s":"02b","c":"b","x":727.3,"y":94.3},{"s":"02b","c":"b","x":724.95,"y":89.3},{"s":"02b","c":"b","x":722.65,"y":81},{"s":"02b","c":"b","x":720.3,"y":74.3},{"s":"02b","c":"b","x":717.5,"y":70},{"s":"02b","c":"b","x":714.6,"y":66.7},{"s":"02b","c":"b","x":712.3,"y":62.7},{"s":"02b","c":"b","x":710.8,"y":57.7},{"s":"02b","c":"b","x":709.7,"y":49.3},{"s":"02b","c":"b","x":708.5,"y":39.3},{"s":"02b","c":"b","x":707.1,"y":31},{"s":"02b","c":"b","x":705.6,"y":27.7}
]},
"hconcat":[
{"title":"a","width":218,"height":701,
"encoding":{
"x":{"field":"x","type":"quantitative","scale":{"domain":[125,146.2],"reverse":true,"nice":false,"zero":false},
"axis":{"values":[145,140,135,130,125],"ticks":false,"labelPadding":5,"labelFont":"DejaVu Sans","labelFontSize":11,"labelFontWeight":"bold","labelFlush":false,"labelOverlap":false,"title":"Binding Energy (eV)","titleFontSize":12,"titleFontWeight":"bold","titlePadding":2}},
"y":{"field":"y","type":"quantitative","scale":{"domain":[0,701],"nice":false,"zero":false},
"axis":{"labels":false,"ticks":false,"title":"Intensity (a.u)","titleFontSize":12,"titleFontWeight":"bold","titlePadding":8,"titleY":343}}},
"layer":[
{"data":{"name":"aRules"},"mark":{"type":"rule","color":"#8b1a1a","strokeDash":[2,2],"strokeWidth":1.5},"encoding":{"y":{"field":"y0","type":"quantitative"},"y2":{"field":"y1"}}},
{"data":{"name":"A"},"transform":[{"filter":"datum.c != 'r'"}],"mark":{"type":"line","interpolate":"monotone","strokeWidth":1.3},
"encoding":{"color":{"field":"c","type":"nominal","scale":{"domain":["p","g","b","o"],"range":["#6d1f9e","#1f9a2a","#2b35e6","#ff9d1c"]},"legend":null},"detail":{"field":"s"}}},
{"data":{"name":"A"},"transform":[{"filter":"datum.c == 'r'"}],"mark":{"type":"line","interpolate":"monotone","strokeWidth":1.5,"color":"#ff2020"},"encoding":{"detail":{"field":"s"}}},
{"data":{"name":"aText"},"mark":{"type":"text","align":"left","baseline":"middle","fontSize":14,"color":"black"},"encoding":{"text":{"field":"t"}}},
{"data":{"name":"aAnn"},"mark":{"type":"text","align":"center","baseline":"middle","fontSize":14,"fontWeight":"bold","color":"black"},"encoding":{"text":{"field":"t"}}}
]},
{"title":"b","width":231,"height":701,
"encoding":{
"x":{"field":"x","type":"quantitative","scale":{"domain":[700,740],"reverse":true,"nice":false,"zero":false},
"axis":{"values":[740,738,736,734,732,730,728,726,724,722,720,718,716,714,712,710,708,706,704,702,700],"labelExpr":"datum.value % 4 == 0 ? datum.label : ''","ticks":true,"tickSize":4,"tickWidth":1.5,"tickColor":"black","labelPadding":1,"labelFontSize":11,"labelFontWeight":"bold","labelFlush":false,"labelOverlap":false,
"labelAlign":{"condition":{"test":"datum.value == 700","value":"right"},"value":"center"},
"labelOffset":{"condition":{"test":"datum.value == 700","value":7},"value":0},
"title":"Binding Energy (eV)","titleFontSize":12,"titleFontWeight":"bold","titlePadding":2}},
"y":{"field":"y","type":"quantitative","scale":{"domain":[0,701],"nice":false,"zero":false},
"axis":{"labels":false,"ticks":false,"title":"Intensity (a.u)","titleFontSize":12,"titleFontWeight":"bold","titlePadding":8,"titleY":343}}},
"layer":[
{"data":{"name":"bRules"},"mark":{"type":"rule","color":"#8b1a1a","strokeDash":[2,2],"strokeWidth":1.5},"encoding":{"y":{"field":"y0","type":"quantitative"},"y2":{"field":"y1"}}},
{"data":{"name":"B"},"transform":[{"filter":"datum.c != 'r'"}],"mark":{"type":"line","interpolate":"monotone","strokeWidth":1.3},
"encoding":{"color":{"field":"c","type":"nominal","scale":{"domain":["p","g","b","o"],"range":["#a553c8","#2ea043","#4a4ccc","#ffa530"]},"legend":null},"detail":{"field":"s"}}},
{"data":{"name":"B"},"transform":[{"filter":"datum.c == 'r'"}],"mark":{"type":"line","interpolate":"monotone","strokeWidth":1.5,"color":"#ff2a2a"},"encoding":{"detail":{"field":"s"}}},
{"data":{"name":"bText"},"mark":{"type":"text","align":"left","baseline":"middle","fontSize":14,"color":"black"},"encoding":{"text":{"field":"t"}}},
{"data":{"name":"bAnn"},"mark":{"type":"text","align":"center","baseline":"middle","fontSize":14,"fontWeight":"bold","color":"black"},"encoding":{"text":{"field":"t"}}}
]}
]}
